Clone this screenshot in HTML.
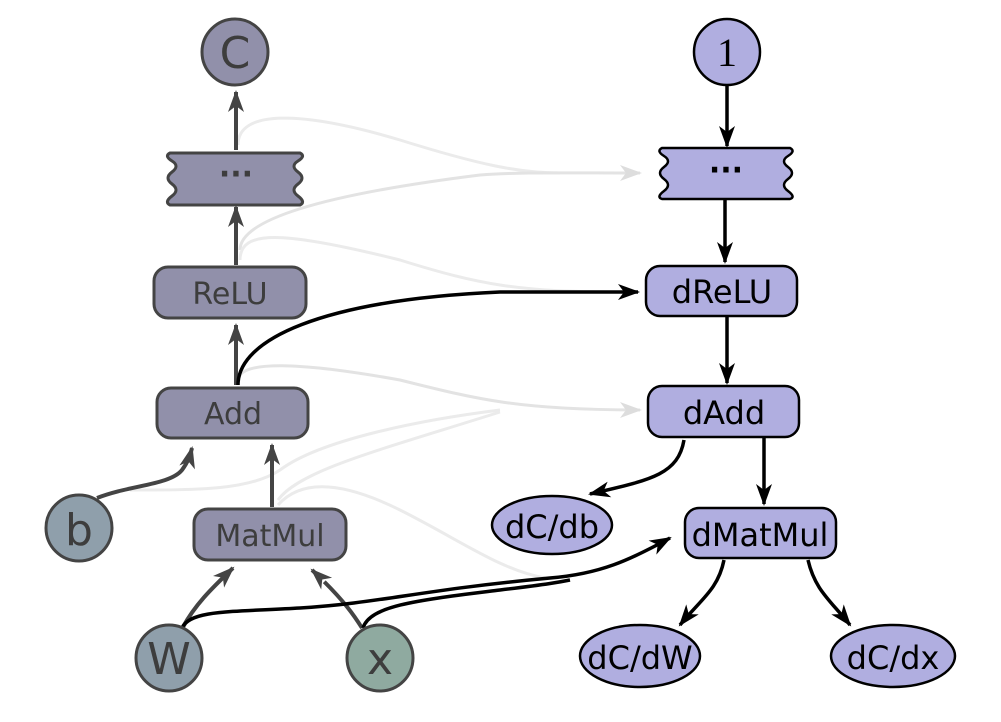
<!DOCTYPE html>
<html><head><meta charset="utf-8"><style>html,body{margin:0;padding:0;background:#fff}svg{display:block}</style></head>
<body>
<svg width="1001" height="722" viewBox="0 0 1001 722" xmlns="http://www.w3.org/2000/svg" font-family="'DejaVu Sans','Liberation Sans',sans-serif">
<defs>
<marker id="ag" markerWidth="10" markerHeight="10" refX="8" refY="5" orient="auto" markerUnits="userSpaceOnUse" viewBox="0 0 10 10"><path d="M0,0 L10,5 L0,10 L3,5 Z" fill="#444"/></marker>
<marker id="ab" markerWidth="22" markerHeight="22" refX="20" refY="11" orient="auto" markerUnits="userSpaceOnUse" viewBox="0 0 22 22"><path d="M0,3 L22,11 L0,19 L6,11 Z" fill="#000"/></marker>
<marker id="agg" markerWidth="22" markerHeight="22" refX="20" refY="11" orient="auto" markerUnits="userSpaceOnUse" viewBox="0 0 22 22"><path d="M0,3 L22,11 L0,19 L6,11 Z" fill="#ddd"/></marker>
<marker id="ad" markerWidth="22" markerHeight="22" refX="20" refY="11" orient="auto" markerUnits="userSpaceOnUse" viewBox="0 0 22 22"><path d="M0,3 L22,11 L0,19 L6,11 Z" fill="#444"/></marker>
</defs>
<!-- faint lines -->
<g fill="none" stroke="#ebebeb" stroke-width="3">
<path d="M238,145 C238,110 300,110 400,140 C480,165 520,173 560,173"/>
<path d="M240,250 C240,220 320,195 480,175 C520,172 560,173 640,173" marker-end="url(#agg)" stroke="#e3e3e3"/>
<path d="M240,260 C240,230 280,230 400,260 C480,285 520,292 620,292"/>
<path d="M238,380 C240,360 300,362 400,380 C480,400 520,410 640,410" marker-end="url(#agg)" stroke="#e3e3e3"/>
<path d="M130,490 C200,490 250,490 280,470 C320,440 420,420 500,410"/>
<path d="M278,500 C300,470 380,450 500,412"/>
<path d="M278,505 C300,480 340,480 400,510 C460,540 500,570 545,578"/>
</g>
<!-- left arrows -->
<g stroke="#444" stroke-width="4" fill="none">
<path d="M236,150 L236,92" marker-end="url(#ad)"/>
<path d="M236,265 L236,207" marker-end="url(#ad)"/>
<path d="M236,385 L236,325" marker-end="url(#ad)"/>
<path d="M272,507 L272,445" marker-end="url(#ad)"/>
<path d="M97,498 C130,485 170,485 182,470 C188,462 190,456 192,448" marker-end="url(#ad)"/>
<path d="M183,627 C195,605 210,590 233,568" marker-end="url(#ad)"/>
<path d="M362,628 C352,612 340,596 312,570" marker-end="url(#ad)" stroke-dasharray="60 10 100"/>
</g>
<!-- black connectors -->
<g stroke="#000" stroke-width="3.5" fill="none">
<path d="M238,385 C238,340 320,300 500,292 L638,292" marker-end="url(#ab)"/>
<path d="M182,628 C190,610 230,612 300,608 C380,603 420,590 550,578 C600,574 630,560 670,538" marker-end="url(#ab)"/>
<path d="M363,628 C370,605 420,600 500,590 C550,584 560,582 570,580"/>
<path d="M725,200 L725,262" marker-end="url(#ab)"/>
<path d="M727,86 L727,146" marker-end="url(#ab)"/>
<path d="M727,317 L727,383" marker-end="url(#ab)"/>
<path d="M764,438 L764,504" marker-end="url(#ab)"/>
<path d="M684,440 C678,475 650,480 590,494" marker-end="url(#ab)"/>
<path d="M724,560 C718,590 700,600 680,625" marker-end="url(#ab)"/>
<path d="M808,560 C815,590 830,600 850,625" marker-end="url(#ab)"/>
</g>
<!-- left nodes -->
<g stroke="#444" stroke-width="3" fill="#9190aa">
<circle cx="235" cy="52" r="33"/>
<path d="M170,153 L300,153 Q306,156 298,161 Q290,166 298,172 Q306,178 298,184 Q290,190 298,196 Q306,202 300,205 L170,205 Q164,202 172,196 Q180,190 172,184 Q164,178 172,172 Q180,166 172,161 Q164,156 170,153 Z"/>
<rect x="154" y="267" width="152" height="51" rx="14"/>
<rect x="157" y="388" width="151" height="50" rx="14"/>
<rect x="194" y="509" width="152" height="51" rx="14"/>
<circle cx="79" cy="528" r="33" fill="#8f9fab"/>
<circle cx="169" cy="658" r="33" fill="#8f9fab"/>
<circle cx="380" cy="658" r="33" fill="#8faaa0"/>
</g>
<g fill="#3d3d3d" text-anchor="middle">
<text x="235" y="68" font-size="44">C</text>
<text x="236" y="184" font-size="30" font-weight="bold">···</text>
<text x="230" y="304" font-size="30">ReLU</text>
<text x="233" y="424" font-size="30">Add</text>
<text x="270" y="546" font-size="30">MatMul</text>
<text x="79" y="545" font-size="44">b</text>
<text x="169" y="674" font-size="44">W</text>
<text x="380" y="674" font-size="44">x</text>
</g>
<!-- right nodes -->
<g stroke="#000" stroke-width="2.5" fill="#b0aee0">
<circle cx="727" cy="52" r="33"/>
<path d="M662,148 L790,148 Q796,151 788,156 Q780,161 788,167 Q796,173 788,179 Q780,185 788,191 Q796,197 790,199 L662,199 Q656,197 664,191 Q672,185 664,179 Q656,173 664,167 Q672,161 664,156 Q656,151 662,148 Z"/>
<rect x="646" y="266" width="151" height="50" rx="14"/>
<rect x="648" y="386" width="151" height="51" rx="14"/>
<rect x="685" y="508" width="151" height="50" rx="14"/>
<ellipse cx="552" cy="525" rx="60" ry="29"/>
<ellipse cx="640" cy="656" rx="60" ry="31"/>
<ellipse cx="893" cy="656" rx="62" ry="31"/>
</g>
<g fill="#000" text-anchor="middle">
<text x="727" y="66" font-size="40" font-family="'Liberation Serif',serif">1</text>
<text x="726" y="180" font-size="30" font-weight="bold">···</text>
<text x="722" y="303" font-size="32">dReLU</text>
<text x="724" y="424" font-size="32">dAdd</text>
<text x="760" y="546" font-size="32">dMatMul</text>
<text x="552" y="538" font-size="32">dC/db</text>
<text x="640" y="669" font-size="32">dC/dW</text>
<text x="893" y="669" font-size="32">dC/dx</text>
</g>
</svg>
</body></html>
